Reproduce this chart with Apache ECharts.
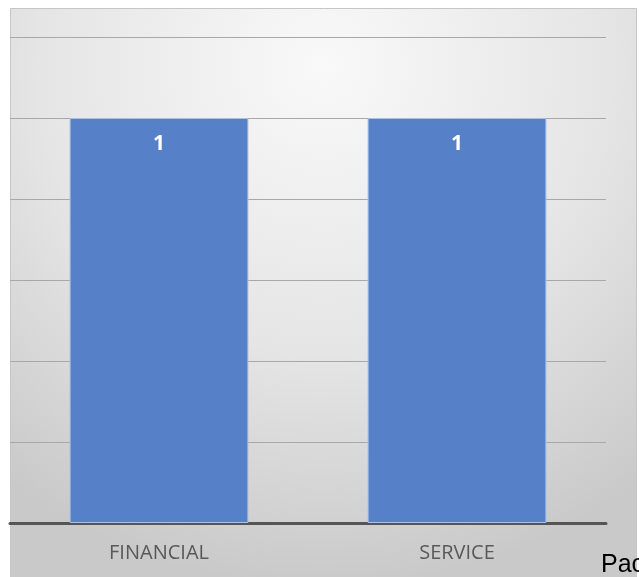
<!DOCTYPE html>
<html>
<head>
<meta charset="utf-8">
<script src="https://cdn.jsdelivr.net/npm/echarts@6/dist/echarts.min.js"></script>
<style>
  html, body { margin: 0; padding: 0; background: #fff; }
  #chart { width: 639px; height: 577px; }
</style>
</head>
<body>
<div id="chart"></div>
<script>
// data
var categories = ['FINANCIAL', 'SERVICE']
var counts = [1, 1]
var yMin = 0
var yMax = 1.2
var yStep = 0.2

var chart = echarts.init(document.getElementById('chart'))

chart.setOption({
  backgroundColor: '#ffffff',
  animation: false,
  graphic: [
    {
      type: 'rect',
      z: -10,
      silent: true,
      shape: { x: 10.5, y: 8.5, width: 626, height: 580 },
      style: {
        fill: {
          type: 'radial', x: 0.5, y: 0.1, r: 0.9,
          colorStops: [
            { offset: 0, color: '#f9f9f9' },
            { offset: 0.55, color: '#e5e5e5' },
            { offset: 1, color: '#c9c9c9' }
          ]
        },
        stroke: '#c6c6c6',
        lineWidth: 1
      }
    },
    {
      // page caption cut off by the right edge
      type: 'text',
      left: 601,
      top: 553,
      style: {
        text: 'Pac',
        fill: '#000',
        font: '25px "Liberation Sans", Arial, sans-serif'
      }
    }
  ],
  grid: {
    left: 10,
    right: 33,
    top: 37,
    bottom: 54,
    containLabel: false
  },
  xAxis: {
    type: 'category',
    data: categories,
    axisTick: { show: false },
    axisLine: { lineStyle: { color: '#555555', width: 3 } },
    axisLabel: {
      color: '#595959',
      fontFamily: 'Open Sans, Noto Sans, sans-serif',
      fontSize: 20,
      margin: 20
    }
  },
  yAxis: {
    type: 'value',
    min: yMin,
    max: yMax,
    interval: yStep,
    axisLabel: { show: false },
    axisLine: { show: false },
    axisTick: { show: false },
    splitLine: { lineStyle: { color: '#a8a8a8', width: 1 } }
  },
  series: [
    {
      type: 'bar',
      data: counts,
      barCategoryGap: '40%',
      itemStyle: {
        color: '#5681c8',
        borderColor: '#a9bfe6',
        borderWidth: 1
      },
      label: {
        show: true,
        position: 'insideTop',
        distance: 16,
        color: '#ffffff',
        fontWeight: 'bold',
        fontSize: 21,
        fontFamily: 'Open Sans, Noto Sans, sans-serif'
      }
    }
  ]
})
</script>
</body>
</html>
